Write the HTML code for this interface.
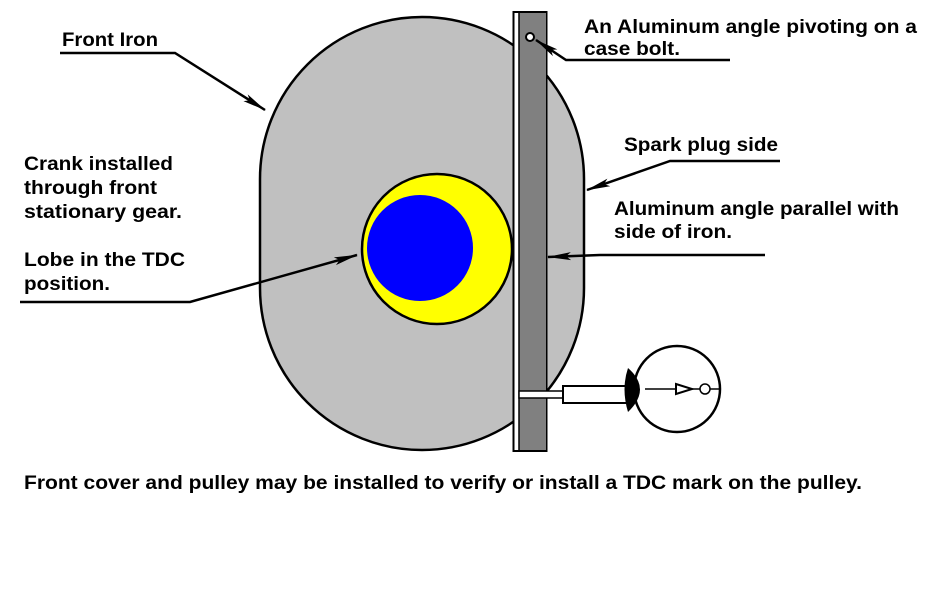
<!DOCTYPE html>
<html><head><style>
html,body{margin:0;padding:0;background:#fff;width:946px;height:597px;overflow:hidden}
svg text{font-family:"Liberation Sans",Arial,sans-serif;font-weight:bold;font-size:19px;fill:#000}
</style></head><body>
<svg width="946" height="597" viewBox="0 0 946 597" xmlns="http://www.w3.org/2000/svg">
<defs>
<marker id="ah" markerWidth="24" markerHeight="10" refX="23" refY="5" orient="auto" markerUnits="userSpaceOnUse"><path d="M0,1 L24,5 L0,9 L5,5 Z" fill="#000"/></marker>
</defs>
<path d="M260,179 A162,162 0 0 1 584,179 L584,288 A162,162 0 0 1 260,288 Z" fill="#c0c0c0" stroke="#000" stroke-width="2.5"/>
<circle cx="437" cy="249" r="75" fill="#ffff00" stroke="#000" stroke-width="2.5"/>
<circle cx="420" cy="248" r="53" fill="#0000ff"/>
<rect x="513.5" y="12" width="33" height="439" fill="#fff" stroke="#000" stroke-width="2"/>
<rect x="519" y="13" width="27" height="437" fill="#808080"/>
<line x1="519" y1="13" x2="519" y2="450" stroke="#000" stroke-width="1.5"/>
<circle cx="530" cy="37" r="4" fill="#fff" stroke="#000" stroke-width="2"/>
<rect x="519" y="391" width="45" height="7" fill="#fff" stroke="#000" stroke-width="1.5"/>
<rect x="563" y="386" width="68" height="17" fill="#fff" stroke="#000" stroke-width="2"/>
<circle cx="677" cy="389" r="43" fill="#fff" stroke="#000" stroke-width="2.5"/>
<path d="M628,368 Q652,389 628,412 Q621,389 628,368 Z" fill="#000"/>
<line x1="645" y1="389" x2="720" y2="389" stroke="#000" stroke-width="1.5"/>
<path d="M676,384 L692,389 L676,394 Z" fill="#fff" stroke="#000" stroke-width="2"/>
<circle cx="705" cy="389" r="5" fill="#fff" stroke="#000" stroke-width="1.5"/>
<g stroke="#000" stroke-width="2.5" fill="none">
<path d="M60,53 L175,53 L265,110" marker-end="url(#ah)"/>
<path d="M730,60 L566,60 L536,40" marker-end="url(#ah)"/>
<path d="M780,161 L670,161 L587,190" marker-end="url(#ah)"/>
<path d="M765,255 L600,255 L548,257" marker-end="url(#ah)"/>
<path d="M20,302 L190,302 L357,255" marker-end="url(#ah)"/>
</g>
<text x="62" y="46" textLength="96" lengthAdjust="spacingAndGlyphs">Front Iron</text>
<text x="584" y="33" textLength="333" lengthAdjust="spacingAndGlyphs">An Aluminum angle pivoting on a</text>
<text x="584" y="55" textLength="96" lengthAdjust="spacingAndGlyphs">case bolt.</text>
<text x="624" y="151" textLength="154" lengthAdjust="spacingAndGlyphs">Spark plug side</text>
<text x="614" y="215" textLength="285" lengthAdjust="spacingAndGlyphs">Aluminum angle parallel with</text>
<text x="614" y="238" textLength="118" lengthAdjust="spacingAndGlyphs">side of iron.</text>
<text x="24" y="170" textLength="149" lengthAdjust="spacingAndGlyphs">Crank installed</text>
<text x="24" y="194" textLength="133" lengthAdjust="spacingAndGlyphs">through front</text>
<text x="24" y="218" textLength="158" lengthAdjust="spacingAndGlyphs">stationary gear.</text>
<text x="24" y="266" textLength="161" lengthAdjust="spacingAndGlyphs">Lobe in the TDC</text>
<text x="24" y="290" textLength="86" lengthAdjust="spacingAndGlyphs">position.</text>
<text x="24" y="489" textLength="838" lengthAdjust="spacingAndGlyphs">Front cover and pulley may be installed to verify or install a TDC mark on the pulley.</text>
</svg>
</body></html>
